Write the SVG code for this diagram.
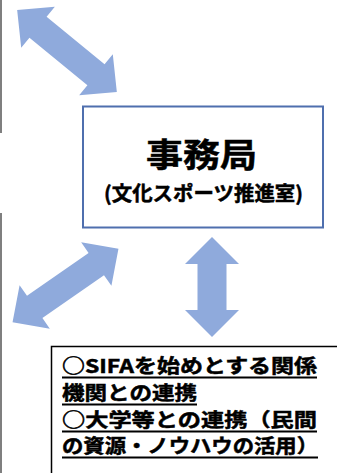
<svg xmlns="http://www.w3.org/2000/svg" width="337" height="473" viewBox="0 0 337 473">
<style>
.arrow{fill:#8faadc}
.edge{stroke:#7f7f7f;stroke-width:2;fill:none}
.jp{font-family:"Noto Sans CJK JP","Noto Sans",sans-serif;font-weight:bold;fill:#000;stroke:#000;stroke-width:0.5}
.ul{stroke:#000;stroke-width:1.8}
</style>
<defs>
<polygon id="dbl" points="-64.5,0 -37.5,-26.5 -37.5,-13.5 37.5,-13.5 37.5,-26.5 64.5,0 37.5,26.5 37.5,13.5 -37.5,13.5 -37.5,26.5"/>
</defs>
<g id="side-lines">
<line class="edge" x1="1" y1="0" x2="1" y2="133"/>
<line class="edge" x1="1" y1="213" x2="1" y2="473"/>
</g>
<g id="connectors">
<use href="#dbl" class="arrow" transform="translate(67,51) rotate(39.4)"/>
<use href="#dbl" class="arrow" transform="translate(65.5,285.5) rotate(-34.8)"/>
<polygon class="arrow" points="212,237 239,264 226.5,264 226.5,310 239,310 212,337 185,310 197.5,310 197.5,264 185,264"/>
</g>
<g id="office">
<rect x="83" y="106.5" width="240" height="121" fill="#fff" stroke="#4f6fae" stroke-width="2"/>
<text class="jp" x="146" y="167" font-size="33" stroke-width="1" textLength="111" lengthAdjust="spacingAndGlyphs">事務局</text>
<text class="jp" x="104" y="201" font-size="20" stroke-width="0.6" textLength="199" lengthAdjust="spacingAndGlyphs">(文化スポーツ推進室)</text>
</g>
<g id="partners">
<rect x="51.5" y="346.5" width="300" height="140" fill="#fff" stroke="#000" stroke-width="1.5"/>
<text class="jp" x="62" y="373" font-size="19" textLength="255" lengthAdjust="spacingAndGlyphs">○SIFAを始めとする関係</text>
<line class="ul" x1="62" y1="377.5" x2="317" y2="377.5"/>
<text class="jp" x="62" y="400" font-size="19" textLength="135" lengthAdjust="spacingAndGlyphs">機関との連携</text>
<line class="ul" x1="62" y1="404.5" x2="197" y2="404.5"/>
<text class="jp" x="62" y="427" font-size="19" textLength="255" lengthAdjust="spacingAndGlyphs">○大学等との連携（民間</text>
<line class="ul" x1="62" y1="431.5" x2="317" y2="431.5"/>
<text class="jp" x="62" y="453" font-size="19" textLength="256" lengthAdjust="spacingAndGlyphs">の資源・ノウハウの活用）</text>
<line class="ul" x1="62" y1="457.5" x2="318" y2="457.5"/>
</g>
</svg>
